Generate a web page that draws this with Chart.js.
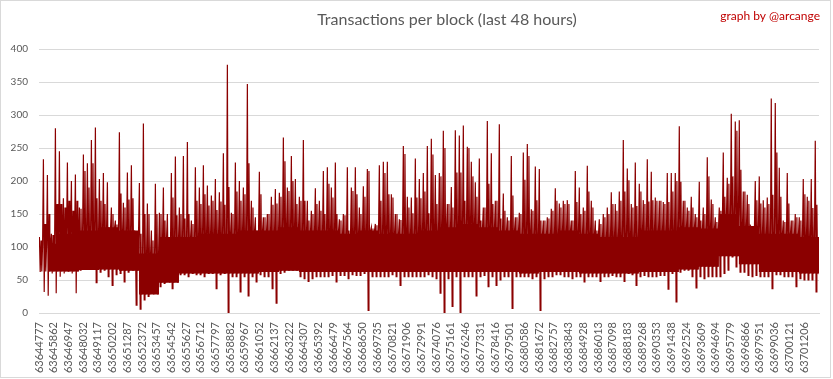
<!DOCTYPE html>
<html>
<head>
<meta charset="utf-8">
<script src="https://cdn.jsdelivr.net/npm/chart.js@4.4.0/dist/chart.umd.min.js"></script>
<style>
  html, body { margin: 0; padding: 0; background: #fff; }
</style>
</head>
<body>
<canvas id="txChart" width="833" height="379"></canvas>
<script>
// block range shown on the x axis
const FIRST_BLOCK = 63644777;
const LAST_BLOCK = 63702312;
const BUCKET = 295; // blocks per sample column

// tick labels under the x axis (block numbers)
const tickBlocks = [
  63644777, 63645862, 63646947, 63648032, 63649117, 63650202, 63651287, 63652372,
  63653457, 63654542, 63655627, 63656712, 63657797, 63658882, 63659967, 63661052,
  63662137, 63663222, 63664307, 63665392, 63666479, 63667564, 63668650, 63669735,
  63670821, 63671906, 63672991, 63674076, 63675161, 63676246, 63677331, 63678416,
  63679501, 63680586, 63681672, 63682757, 63683843, 63684928, 63686013, 63687098,
  63688183, 63689268, 63690353, 63691438, 63692524, 63693609, 63694694, 63695779,
  63696866, 63697951, 63699036, 63700121, 63701206
];

// highest tx count in each column of blocks
const peakTx = [
  115, 233, 209, 120, 280, 245, 174, 228, 200, 210,
  160, 240, 227, 262, 281, 203, 212, 198, 160, 140,
  274, 167, 213, 224, 118, 197, 287, 166, 125, 196,
  152, 190, 150, 212, 237, 160, 238, 259, 140, 221,
  190, 224, 193, 178, 203, 183, 242, 376, 152, 228,
  200, 190, 347, 170, 145, 214, 145, 150, 176, 188,
  182, 266, 190, 238, 203, 176, 262, 170, 155, 189,
  170, 215, 221, 190, 228, 142, 150, 221, 190, 221,
  160, 192, 218, 130, 135, 224, 229, 229, 180, 150,
  142, 253, 176, 175, 234, 203, 212, 253, 264, 209,
  212, 276, 165, 191, 277, 269, 284, 252, 229, 198,
  234, 160, 291, 242, 170, 286, 181, 145, 238, 145,
  152, 243, 256, 157, 222, 218, 140, 145, 158, 189,
  166, 170, 171, 140, 215, 190, 160, 223, 170, 140,
  142, 150, 160, 183, 165, 184, 262, 219, 165, 228,
  196, 171, 233, 214, 175, 170, 168, 212, 212, 212,
  283, 170, 160, 176, 150, 199, 160, 236, 172, 145,
  160, 243, 205, 302, 290, 292, 184, 179, 130, 200,
  207, 171, 175, 325, 318, 220, 140, 212, 140, 150,
  145, 203, 176, 203, 261
];

// second tallest level in each column
const secondTx = [
  110, 135, 150, 118, 165, 165, 160, 170, 155, 170,
  158, 215, 190, 227, 174, 170, 165, 130, 150, 134,
  181, 160, 172, 174, 95, 120, 150, 150, 110, 150,
  150, 140, 115, 175, 148, 150, 143, 150, 135, 170,
  165, 180, 163, 170, 156, 169, 164, 191, 150, 184,
  170, 180, 227, 160, 125, 180, 145, 150, 164, 166,
  176, 230, 185, 200, 165, 170, 170, 140, 150, 165,
  155, 150, 196, 175, 150, 140, 148, 125, 185, 180,
  150, 176, 215, 128, 133, 170, 212, 180, 175, 150,
  141, 241, 160, 151, 175, 174, 184, 151, 240, 165,
  207, 250, 165, 160, 213, 213, 170, 250, 207, 176,
  140, 160, 196, 165, 170, 143, 155, 140, 178, 145,
  150, 202, 238, 155, 171, 140, 140, 143, 155, 170,
  160, 165, 165, 140, 168, 150, 155, 184, 160, 125,
  135, 145, 150, 165, 155, 170, 184, 201, 160, 162,
  184, 165, 169, 171, 170, 170, 165, 168, 184, 200,
  199, 170, 155, 160, 145, 140, 150, 207, 165, 138,
  155, 176, 196, 207, 276, 217, 184, 165, 125, 171,
  166, 160, 165, 179, 243, 176, 138, 166, 140, 145,
  140, 180, 170, 159, 164
];

// lowest tx count in each column of blocks
const lowTx = [
  62, 32, 26, 60, 30, 55, 60, 62, 60, 30,
  65, 68, 68, 68, 46, 62, 65, 55, 42, 58,
  60, 47, 62, 65, 12, 6, 20, 25, 30, 35,
  40, 45, 55, 37, 58, 58, 58, 55, 60, 58,
  58, 55, 60, 60, 37, 58, 60, 0, 55, 55,
  32, 55, 26, 55, 47, 58, 55, 55, 37, 15,
  60, 62, 65, 65, 65, 55, 52, 48, 52, 55,
  55, 55, 55, 57, 47, 57, 57, 52, 58, 57,
  57, 60, 4, 55, 55, 55, 55, 55, 58, 55,
  42, 55, 55, 55, 55, 55, 55, 58, 55, 52,
  30, 0, 52, 10, 55, 0, 55, 55, 55, 26,
  55, 57, 40, 55, 42, 50, 55, 55, 7, 55,
  55, 55, 55, 52, 55, 4, 52, 55, 55, 58,
  58, 55, 55, 52, 55, 55, 47, 55, 55, 55,
  48, 55, 55, 57, 55, 55, 48, 60, 58, 42,
  55, 57, 55, 55, 55, 57, 57, 36, 60, 17,
  62, 65, 65, 55, 38, 55, 52, 55, 55, 55,
  55, 60, 65, 85, 70, 62, 62, 57, 55, 57,
  55, 55, 55, 37, 58, 58, 55, 55, 55, 40,
  52, 50, 50, 50, 32
];

// dense band where most blocks sit (one value per 5 columns)
const coreTop = [
  105, 120, 125, 130, 125, 90, 115, 115, 120, 120,
  125, 125, 130, 125, 125, 120, 125, 120, 120, 125,
  130, 135, 130, 125, 120, 120, 125, 120, 115, 115,
  125, 125, 130, 128, 150, 132, 120, 120, 115, 115
];
const coreBottom = [
  63, 63, 65, 66, 64, 28, 46, 60, 60, 60,
  60, 62, 64, 62, 62, 62, 62, 62, 62, 62,
  62, 62, 62, 62, 60, 62, 62, 60, 60, 60,
  62, 62, 66, 70, 86, 74, 62, 62, 60, 58
];

const RED = '#8b0000';

// five points per column: peak, low, second peak, band bottom, band top
const series = [];
for (let i = 0; i < peakTx.length; i++) {
  const start = FIRST_BLOCK + i * BUCKET;
  const c = Math.floor(i / 5);
  series.push({ x: start + 30, y: peakTx[i] });
  series.push({ x: start + 89, y: lowTx[i] });
  series.push({ x: start + 148, y: secondTx[i] });
  series.push({ x: start + 207, y: coreBottom[c] });
  series.push({ x: start + 266, y: coreTop[c] });
}
const coreHighPts = coreTop.map((v, k) => ({ x: FIRST_BLOCK + (k * 5 + 2.5) * BUCKET, y: v }));
const coreLowPts = coreBottom.map((v, k) => ({ x: FIRST_BLOCK + (k * 5 + 2.5) * BUCKET, y: v }));

const headerText = {
  id: 'headerText',
  afterDraw(chart) {
    const ctx = chart.ctx;
    ctx.save();
    ctx.strokeStyle = '#d9d9d9';
    ctx.lineWidth = 1;
    ctx.strokeRect(0.5, 0.5, 830, 377);
    ctx.textBaseline = 'middle';
    ctx.fillStyle = '#595959';
    ctx.font = '16px Lato';
    ctx.textAlign = 'center';
    ctx.fillText('Transactions per block (last 48 hours)', 447, 20);
    ctx.fillStyle = '#c00000';
    ctx.font = '12px Lato';
    ctx.textAlign = 'right';
    ctx.fillText('graph by @arcange', 820, 16);
    ctx.restore();
  }
};

new Chart('txChart', {
  type: 'line',
  data: {
    datasets: [
      { data: coreLowPts, borderWidth: 0, pointRadius: 0, fill: false, stepped: 'middle', backgroundColor: RED },
      { data: coreHighPts, borderWidth: 0, pointRadius: 0, fill: '-1', stepped: 'middle', backgroundColor: RED },
      { data: series, borderColor: RED, borderWidth: 1.2, pointRadius: 0, fill: false, tension: 0 }
    ]
  },
  options: {
    responsive: false,
    animation: false,
    events: [],
    layout: { padding: { left: 0, right: 14, top: 49, bottom: 0 } },
    plugins: {
      legend: { display: false },
      tooltip: { enabled: false }
    },
    scales: {
      x: {
        type: 'linear',
        min: FIRST_BLOCK,
        max: LAST_BLOCK,
        grid: { display: false, drawTicks: false },
        border: { color: '#d9d9d9' },
        ticks: {
          autoSkip: false,
          minRotation: 90,
          maxRotation: 90,
          padding: 9,
          color: '#595959',
          font: { family: 'Lato', size: 11 },
          callback: function(value) { return String(value); }
        },
        afterBuildTicks: function(scale) {
          scale.ticks = tickBlocks.map(v => ({ value: v }));
        },
        afterFit: function(scale) { scale.height = 66; }
      },
      y: {
        min: 0,
        max: 400,
        ticks: { stepSize: 50, padding: 11, color: '#595959', font: { family: 'Lato', size: 10 } },
        grid: { color: '#d9d9d9', drawTicks: false },
        border: { display: false },
        afterFit: function(scale) { scale.width = 39; }
      }
    }
  },
  plugins: [headerText]
});
</script>
</body>
</html>
